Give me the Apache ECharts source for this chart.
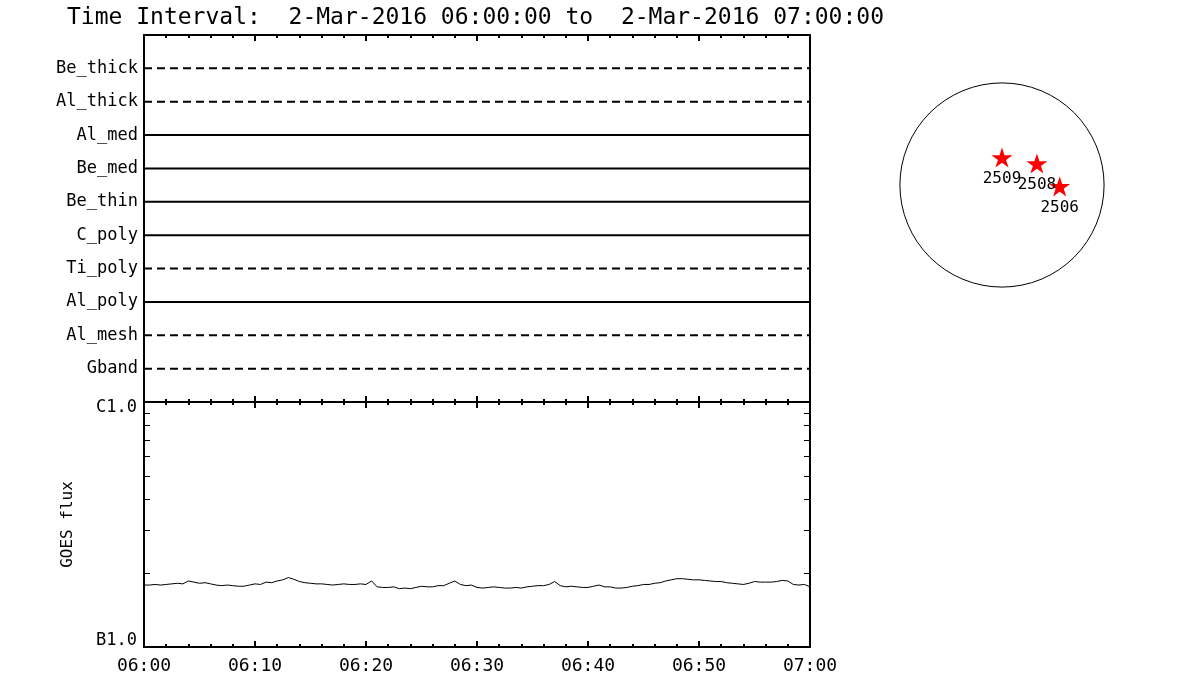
<!DOCTYPE html>
<html>
<head>
<meta charset="utf-8">
<script src="https://cdn.jsdelivr.net/npm/echarts@6/dist/echarts.min.js"></script>
<style>
  html, body { margin: 0; padding: 0; background: #fff; }
  #chart { width: 1200px; height: 700px; }
</style>
</head>
<body>
<div id="chart"></div>
<script>
const titleText = 'Time Interval:  2-Mar-2016 06:00:00 to  2-Mar-2016 07:00:00';

// detector rows, top to bottom
const rowNames = ['Be_thick', 'Al_thick', 'Al_med', 'Be_med', 'Be_thin', 'C_poly', 'Ti_poly', 'Al_poly', 'Al_mesh', 'Gband'];
const rowDashed = [true, true, false, false, false, false, true, false, true, true];

// minutes after 06:00
const xTickLabels = ['06:00', '06:10', '06:20', '06:30', '06:40', '06:50', '07:00'];

// GOES flux, units of 1e-7 W/m2, one sample every 30 s from 06:00
const goesFlux = [
  1.79, 1.79, 1.80, 1.79, 1.80, 1.81, 1.82, 1.81, 1.86, 1.84,
  1.82, 1.83, 1.81, 1.79, 1.78, 1.79, 1.78, 1.77, 1.77, 1.79,
  1.81, 1.80, 1.84, 1.83, 1.86, 1.88, 1.92, 1.89, 1.85, 1.83,
  1.82, 1.81, 1.81, 1.80, 1.79, 1.80, 1.81, 1.80, 1.80, 1.81,
  1.80, 1.86, 1.76, 1.75, 1.75, 1.76, 1.73, 1.74, 1.73, 1.75,
  1.77, 1.76, 1.76, 1.78, 1.78, 1.82, 1.86, 1.80, 1.78, 1.79,
  1.75, 1.74, 1.75, 1.76, 1.75, 1.74, 1.74, 1.75, 1.74, 1.76,
  1.77, 1.78, 1.78, 1.80, 1.85, 1.78, 1.76, 1.77, 1.76, 1.75,
  1.75, 1.77, 1.79, 1.76, 1.76, 1.74, 1.74, 1.75, 1.77, 1.78,
  1.80, 1.80, 1.82, 1.83, 1.86, 1.88, 1.90, 1.90, 1.89, 1.88,
  1.88, 1.87, 1.86, 1.85, 1.85, 1.83, 1.82, 1.81, 1.80, 1.82,
  1.85, 1.84, 1.84, 1.84, 1.85, 1.87, 1.86, 1.80, 1.79, 1.80,
  1.76
];
const goesClassValues = [1e-7, 1e-6];
const goesClassLabels = ['B1.0', 'C1.0'];
const goesMinorTicks = [2e-7, 3e-7, 4e-7, 5e-7, 6e-7, 7e-7, 8e-7, 9e-7];

// active regions, solar x/y in arcsec
const sunRadius = 968;
const regionNames = ['2509', '2508', '2506'];
const regionX = [0, 331, 547];
const regionY = [260, 203, -14];

const FONT = 'DejaVu Sans Mono';
const STAR = 'path://M12,0 L14.8,8.5 L23.7,8.5 L16.5,13.8 L19.3,22.3 L12,17 L4.7,22.3 L7.5,13.8 L0.3,8.5 L9.2,8.5 Z';

const chart = echarts.init(document.getElementById('chart'));

const axisLine = { show: true, onZero: false, lineStyle: { color: '#000', width: 2 } };

function timeAxis(grid, position, showLabels) {
  return {
    type: 'value', gridIndex: grid, position: position,
    min: 0, max: 60, interval: 10,
    axisLine: axisLine,
    axisTick: { show: true, inside: true, length: 6, lineStyle: { color: '#000', width: 2 } },
    minorTick: { show: true, splitNumber: 5, length: 3, lineStyle: { color: '#000', width: 2 } },
    splitLine: { show: false },
    axisLabel: {
      show: showLabels, margin: 10, color: '#000', fontFamily: FONT, fontSize: 18,
      formatter: (v, i) => xTickLabels[i]
    }
  };
}

function tickAxis(position, showLine) {
  return {
    type: 'value', gridIndex: 1, position: position,
    min: Math.log10(goesClassValues[0]), max: Math.log10(goesClassValues[1]),
    axisLine: showLine ? axisLine : { show: false, onZero: false },
    axisTick: {
      show: true, inside: true, length: 6,
      customValues: goesMinorTicks.map(Math.log10),
      lineStyle: { color: '#000', width: 1 }
    },
    axisLabel: { show: false },
    splitLine: { show: false }
  };
}

const rowSeries = rowNames.map((name, i) => ({
  name: name,
  type: 'line',
  xAxisIndex: 0, yAxisIndex: 0,
  data: [[0, rowNames.length - i], [60, rowNames.length - i]],
  showSymbol: false,
  silent: true,
  lineStyle: { color: '#000', width: 2, type: rowDashed[i] ? [8, 5] : 'solid' }
}));

const option = {
  backgroundColor: '#fff',
  animation: false,
  title: {
    text: titleText, left: 62, top: 2,
    textStyle: { fontFamily: FONT, fontSize: 23, fontWeight: 'normal', color: '#000' }
  },
  grid: [
    { left: 144, top: 35, width: 666, height: 367, containLabel: false, outerBoundsMode: 'none' },
    { left: 144, top: 402, width: 666, height: 245, containLabel: false, outerBoundsMode: 'none' },
    { left: 886, top: 69, width: 232, height: 232, containLabel: false, outerBoundsMode: 'none' }
  ],
  xAxis: [
    timeAxis(0, 'bottom', false),
    timeAxis(0, 'top', false),
    timeAxis(1, 'bottom', true),
    timeAxis(1, 'top', false),
    { type: 'value', gridIndex: 2, min: -1100, max: 1100, show: false }
  ],
  yAxis: [
    {
      type: 'value', gridIndex: 0, position: 'left', min: 0, max: rowNames.length + 1,
      axisLine: axisLine, axisTick: { show: false }, splitLine: { show: false },
      axisLabel: {
        margin: 6, color: '#000', fontFamily: FONT, fontSize: 17,
        customValues: rowNames.map((n, i) => rowNames.length - i),
        formatter: v => rowNames[rowNames.length - v]
      }
    },
    {
      type: 'value', gridIndex: 0, position: 'right', min: 0, max: rowNames.length + 1,
      axisLine: axisLine, axisTick: { show: false }, axisLabel: { show: false }, splitLine: { show: false }
    },
    {
      type: 'log', logBase: 10, gridIndex: 1, position: 'left',
      min: goesClassValues[0], max: goesClassValues[1],
      name: 'GOES flux', nameLocation: 'middle', nameRotate: 90, nameGap: 68,
      nameTextStyle: { color: '#000', fontFamily: FONT, fontSize: 16 },
      axisLine: axisLine, axisTick: { show: false }, splitLine: { show: false },
      axisLabel: {
        margin: 7, color: '#000', fontFamily: FONT, fontSize: 17,
        formatter: (v, i) => i === 0 ? '{lo|' + goesClassLabels[i] + '}' : '{hi|' + goesClassLabels[i] + '}',
        rich: {
          lo: { fontFamily: FONT, fontSize: 17, color: '#000', padding: [0, 0, 12, 0] },
          hi: { fontFamily: FONT, fontSize: 17, color: '#000', padding: [12, 0, 0, 0] }
        }
      }
    },
    tickAxis('left', false),
    tickAxis('right', true),
    { type: 'value', gridIndex: 2, min: -1100, max: 1100, show: false }
  ],
  series: rowSeries.concat([
    {
      name: 'GOES',
      type: 'line',
      xAxisIndex: 2, yAxisIndex: 2,
      data: goesFlux.map((f, i) => [i * 0.5, f * 1e-7]),
      showSymbol: false,
      silent: true,
      lineStyle: { color: '#000', width: 1 }
    },
    {
      name: 'disk',
      type: 'custom',
      xAxisIndex: 4, yAxisIndex: 5,
      data: [[0, 0, sunRadius]],
      silent: true,
      renderItem: (params, api) => {
        const c = api.coord([api.value(0), api.value(1)]);
        const r = api.size([api.value(2), 0])[0];
        return {
          type: 'circle',
          shape: { cx: c[0], cy: c[1], r: r },
          style: { fill: 'none', stroke: '#000', lineWidth: 1 }
        };
      }
    },
    {
      name: 'regions',
      type: 'scatter',
      xAxisIndex: 4, yAxisIndex: 5,
      data: regionNames.map((n, i) => ({ name: n, value: [regionX[i], regionY[i]] })),
      symbol: STAR, symbolSize: 21, symbolKeepAspect: true,
      itemStyle: { color: '#ff0000', opacity: 1 },
      silent: true,
      label: {
        show: true, position: 'bottom', distance: 3,
        formatter: p => p.name,
        color: '#000', fontFamily: FONT, fontSize: 16
      }
    }
  ])
};

chart.setOption(option);
</script>
</body>
</html>
